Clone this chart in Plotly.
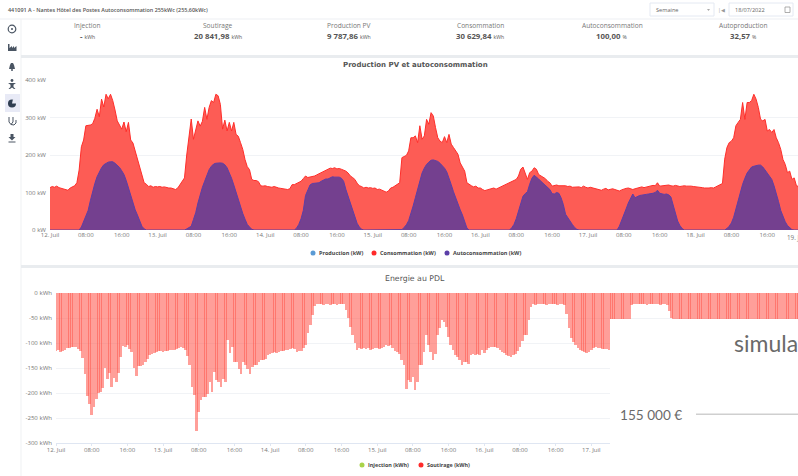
import pandas as pd
import plotly.graph_objects as go

W, H = 798, 476

# ---------- data (half-hourly) ----------
conso_12 = [113,116,114,117,113,111,110,108,106,112,116,118,126,160,222,240,278,278,280,283,298,322,302,349,328,362,350,362,345,320,291,280,269,288,262,287,240,232,211,190,166,146,126,122,116,118,114,116]
conso_13 = [115,116,114,115,113,112,112,110,108,112,121,128,139,200,246,296,242,268,291,277,290,327,295,327,345,340,362,358,335,269,293,264,287,264,287,255,250,233,215,188,169,161,135,132,132,129,118,117]
conso_14 = [118,116,115,114,116,113,112,111,110,110,108,110,121,121,124,126,130,137,144,140,141,143,144,147,150,154,157,160,162,165,164,166,163,164,162,160,157,152,144,140,135,125,118,116,112,114,112,113]
conso_15 = [111,112,108,109,106,104,101,104,112,114,118,120,126,193,197,199,211,246,246,251,233,278,242,251,295,282,313,304,273,246,237,233,249,233,255,229,220,211,202,179,166,157,126,121,118,115,117,112]
conso_16 = [112,108,105,107,108,110,112,109,112,115,118,120,124,126,128,131,135,144,162,168,148,135,153,157,166,162,148,144,139,137,130,126,117,119,120,118,118,120,118,116,117,114,115,116,115,113,117,114]
conso_17 = [112,114,112,110,110,108,106,109,111,107,108,110,108,106,104,107,110,111,112,109,108,110,112,114,115,113,115,116,117,119,118,126,117,118,117,120,120,118,117,119,117,116,117,118,117,118,117,116]
conso_18 = [115,114,112,113,112,111,112,113,112,115,118,120,124,189,220,233,237,246,278,287,295,340,295,340,340,345,362,349,327,295,291,295,264,268,260,268,246,233,215,188,175,153,157,135,139,118,115,114]

night = [0] * 13
auto_12 = night + [0,8,24,36,52,78,104,124,142,155,166,174,178,181,182,182,178,173,167,158,148,132,112,94,72,54,40,25,10,3,0,0,0,0,0]
auto_13 = night + [3,6,10,28,46,72,95,114,130,146,161,170,176,178,179,179,178,174,166,153,138,120,100,80,60,44,29,15,8,2,0,0,0,0,0]
auto_14 = night + [0,5,15,30,52,92,108,120,124,125,127,126,130,133,136,136,140,142,141,142,141,138,130,108,90,68,50,32,18,8,2,0,0,0,0]
auto_15 = night + [1,7,14,25,42,64,86,108,132,152,165,175,181,186,187,186,183,178,172,165,155,140,121,102,84,72,54,40,20,5,0,0,0,0,0]
auto_16 = night + [0,6,15,30,52,72,90,97,102,122,138,146,142,136,130,124,120,114,108,97,96,100,98,86,68,42,32,24,15,7,2,0,0,0,0]
auto_17 = night + [0,10,24,40,56,72,84,96,86,90,92,93,95,95,96,96,98,100,106,98,96,95,96,94,88,64,42,24,12,4,0,0,0,0,0]
auto_18 = night + [0,4,10,19,34,56,80,104,122,138,152,160,168,170,172,173,173,168,160,152,144,135,118,99,76,52,36,22,12,5,1,0,0,0,0]

sout_12 = [116,113,118,115,113,110,110,108,107,108,112,116,130,162,205,222,243,228,212,200,198,190,150,172,160,188,170,178,160,128,105,108,104,112,118,150,166,146,145,144,138,132,124,122,120,118,116,115]
sout_13 = [117,116,115,114,114,113,112,110,107,110,114,125,144,187,204,275,238,214,208,208,201,178,198,157,174,178,188,171,178,94,120,107,137,137,151,161,137,144,151,161,147,144,144,137,133,134,131,124]
sout_14 = [121,120,118,119,117,116,115,114,113,112,110,112,117,116,115,110,104,80,64,44,25,22,22,21,23,22,22,23,22,21,23,22,22,22,33,50,67,84,100,114,110,111,110,112,110,114,112,109]
sout_15 = [109,112,110,108,104,105,104,110,116,118,121,134,144,192,174,178,167,194,178,144,144,117,84,104,117,134,121,84,70,54,57,67,87,104,114,124,127,134,144,137,137,141,124,121,124,121,123,114]
sout_16 = [119,114,110,108,107,108,110,113,117,120,124,125,127,124,121,115,107,96,84,84,54,27,22,23,22,21,22,22,23,22,21,22,22,23,22,21,23,42,70,90,98,104,110,113,116,118,119,117]
sout_17 = [114,110,107,109,110,111,112,112,113,112,110,112,111,112,110,108,104,55,24,22,22,22,21,22,22,23,22,22,21,22,22,23,22,22,24,36,50,70,88,100,104,106,110,113,116,115,117,116]
sout_18 = [115,113,112,114,112,110,112,113,112,114,118,120,124,189,216,223,218,212,222,207,191,218,157,188,180,177,192,177,154,122,123,135,112,124,125,150,147,157,163,152,153,141,152,134,139,118,115,114]

consommation = conso_12 + conso_13 + conso_14 + conso_15 + conso_16 + conso_17 + conso_18
autoconsommation = auto_12 + auto_13 + auto_14 + auto_15 + auto_16 + auto_17 + auto_18
production = list(autoconsommation)   # 100 % autoconsommation: both curves coincide
soutirage = sout_12 + sout_13 + sout_14 + sout_15 + sout_16 + sout_17 + sout_18
assert len(consommation) == len(autoconsommation) == len(soutirage) == 336
times = pd.date_range("2022-07-12", periods=336, freq="30min")

tick_dates = ["2022-07-12 00:00","2022-07-12 08:00","2022-07-12 16:00","2022-07-13 00:00","2022-07-13 08:00","2022-07-13 16:00",
              "2022-07-14 00:00","2022-07-14 08:00","2022-07-14 16:00","2022-07-15 00:00","2022-07-15 08:00","2022-07-15 16:00",
              "2022-07-16 00:00","2022-07-16 08:00","2022-07-16 16:00","2022-07-17 00:00","2022-07-17 08:00","2022-07-17 16:00",
              "2022-07-18 00:00","2022-07-18 08:00","2022-07-18 16:00"]
tick_text = ["12. Juil","08:00","16:00","13. Juil","08:00","16:00","14. Juil","08:00","16:00","15. Juil","08:00","16:00",
             "16. Juil","08:00","16:00","17. Juil","08:00","16:00","18. Juil","08:00","16:00"]
kw_vals = [0,100,200,300,400]
kw_text = ["0 kW","100 kW","200 kW","300 kW","400 kW"]
kwh_vals = [0,-50,-100,-150,-200,-250,-300]
kwh_text = ["0 kWh","-50 kWh","-100 kWh","-150 kWh","-200 kWh","-250 kWh","-300 kWh"]
kpi_names = ["Injection","Soutirage","Production PV","Consommation","Autoconsommation","Autoproduction"]
kpi_values = ["-","20 841,98","9 787,86","30 629,84","100,00","32,57"]
kpi_units = ["kWh","kWh","kWh","kWh","%","%"]
kpi_x = [87,218,349,480,612,743]

# ---------- helpers (page pixels -> paper) ----------
fx = lambda x: x / W
fy = lambda y: 1 - y / H
FONT = "Open Sans"
shapes, ann = [], []

def text(x, y, s, size=8, color="#666", anchor="center", family=FONT, weight=None):
    f = dict(size=size, color=color, family=family)
    if weight:
        f["weight"] = weight
    ann.append(dict(xref="paper", yref="paper", x=fx(x), y=fy(y), text=s, showarrow=False, xanchor=anchor,
                    yanchor="middle", font=f, borderpad=0, borderwidth=0))

def rect(x0, y0, x1, y1, fill=None, line=None, lw=1, layer="above"):
    shapes.append(dict(type="rect", xref="paper", yref="paper", x0=fx(x0), x1=fx(x1), y0=fy(y1), y1=fy(y0),
                       fillcolor=fill or "rgba(0,0,0,0)", line=dict(color=line or "rgba(0,0,0,0)", width=lw if line else 0), layer=layer))

def circle(cx, cy, r, fill=None, line=None, lw=1):
    shapes.append(dict(type="circle", xref="paper", yref="paper", x0=fx(cx-r), x1=fx(cx+r), y0=fy(cy+r), y1=fy(cy-r),
                       fillcolor=fill or "rgba(0,0,0,0)", line=dict(color=line or "rgba(0,0,0,0)", width=lw if line else 0), layer="above"))

def poly(pts, fill=None, line=None, lw=1, close=True):
    d = "M" + " L".join(f"{fx(x):.5f},{fy(y):.5f}" for x, y in pts) + (" Z" if close else "")
    shapes.append(dict(type="path", xref="paper", yref="paper", path=d, fillcolor=fill or "rgba(0,0,0,0)",
                       line=dict(color=line or "rgba(0,0,0,0)", width=lw if line else 0), layer="above"))

# ---------- page chrome ----------
rect(0, 18.5, W, 19.5, fill="#eef0f3")
rect(20.5, 19, 21.5, 476, fill="#f0f1f4")
rect(21, 55, W, 58, fill="#e9ecef")
rect(21, 265, W, 268, fill="#e9ecef")
text(8, 10, "441091 A - Nantes Hôtel des Postes Autoconsommation 255kWc (255,60kWc)", size=5.45, color="#555", anchor="left", weight=600)

rect(650, 3, 714, 16, fill="#fff", line="#e4e9f2")
text(656, 10, "Semaine", size=5.6, color="#666", anchor="left")
poly([(707, 9), (710, 9), (708.5, 11)], fill="#aaa")
text(721, 10, "|◀", size=5, color="#999")
rect(729, 3, 793, 16, fill="#fff", line="#e4e9f2")
text(735, 10, "18/07/2022", size=5.6, color="#666", anchor="left")
rect(785, 7, 790, 12.5, line="#999", lw=0.8)

for name, val, unit, x in zip(kpi_names, kpi_values, kpi_units, kpi_x):
    text(x, 25, name, size=6.6, color="#777")
    text(x, 36.5, f"<b>{val}</b> <span style='font-size:5.2px'>{unit}</span>", size=7.8, color="#555")

# sidebar icons
ic = "#4a5563"
rect(5, 94, 20, 112, fill="#e8eaf6")
circle(12, 29, 3.8, line=ic, lw=1.2)
circle(12, 29, 1, fill=ic)
poly([(8, 51), (8, 44), (9.5, 44), (9.5, 48), (12, 46), (12, 48), (14, 46), (14, 48), (16.5, 46), (16.5, 51)], fill=ic)
poly([(9, 69), (10, 65), (11, 63), (13, 63), (14, 65), (15, 69)], fill=ic)
circle(12, 70, 1, fill=ic)
circle(12, 80.5, 1.4, fill=ic)
poly([(8, 83), (16, 83), (13.5, 84.8), (13.5, 87), (15.5, 89), (14, 89), (12, 87.5), (10, 89), (8.5, 89), (10.5, 87), (10.5, 84.8)], fill=ic)
circle(12, 103.5, 4, fill="#2f3e51")
poly([(12, 103.5), (16.5, 103.5), (16.5, 100), (13, 99)], fill="#e8eaf6")
poly([(9, 117), (9, 122), (11, 124.5), (13, 122), (13, 117)], line=ic, lw=1, close=False)
poly([(11, 124.5), (14, 125), (16, 123), (16, 120)], line=ic, lw=1, close=False)
poly([(10.5, 134), (13.5, 134), (13.5, 137), (15.5, 137), (12, 140.5), (8.5, 137), (10.5, 137)], fill=ic)
rect(8.5, 141.5, 15.5, 142.5, fill=ic)

# section titles
text(415, 65, "<b>Production PV et autoconsommation</b>", size=7, color="#555", family="DejaVu Sans")
text(415, 278, "Energie au PDL", size=7.8, color="#555", family="DejaVu Sans")

# hand-placed legends, spaced as in the picture
for cx, name, col in [(313, "Production (kW)", "#5b9bd5"), (374, "Consommation (kW)", "#ff2a2a"), (447, "Autoconsommation (kW)", "#5b3fa8")]:
    circle(cx, 253, 2.5, fill=col)
    text(cx + 6, 253, f"<b>{name}</b>", size=5.5, color="#444", anchor="left")
for cx, name, col in [(362, "Injection (kWh)", "#a9d34a"), (421, "Soutirage (kWh)", "#ff2a2a")]:
    circle(cx, 465, 2.5, fill=col)
    text(cx + 6, 465, f"<b>{name}</b>", size=5.4, color="#444", anchor="left")

text(787, 237, "19. Juil", size=6.3, color="#777", anchor="left")

# overlapping white panel, cropped text as in the picture
rect(610, 319, W + 2, H + 2, fill="#ffffff")
text(734, 343, "simulation", size=23, color="#6a6a6a", anchor="left", family="Lato")
text(620, 414.5, "155 000 €", size=13.6, color="#6a6a6a", anchor="left", family="Lato")
rect(696, 413.5, W + 2, 415, fill="#cfcfcf")

# ---------- figure ----------
fig = go.Figure()
fig.add_trace(go.Scatter(x=times, y=production, name="Production (kW)", mode="lines", line=dict(color="#5b9bd5", width=1), xaxis="x", yaxis="y", showlegend=False))
fig.add_trace(go.Scatter(x=times, y=consommation, name="Consommation (kW)", mode="lines", fill="tozeroy", fillcolor="#fd5c55", line=dict(color="#ff2e2a", width=1), xaxis="x", yaxis="y", showlegend=False))
fig.add_trace(go.Scatter(x=times, y=autoconsommation, name="Autoconsommation (kW)", mode="lines", fill="tozeroy", fillcolor="#74408f", line=dict(color="#5d3fa6", width=1), xaxis="x", yaxis="y", showlegend=False))
fig.add_trace(go.Bar(x=times, y=[-v for v in soutirage], name="Soutirage (kWh)", marker=dict(color="rgba(255,90,80,0.58)", line=dict(width=0)), width=1.8e6 * 1.22, xaxis="x2", yaxis="y2", showlegend=False))

tickfont = dict(size=6.1, color="#777", family=FONT)
common_x = dict(type="date", tickmode="array", tickvals=tick_dates, ticktext=tick_text, tickfont=tickfont, showgrid=False, zeroline=False)
common_y = dict(tickmode="array", tickfont=tickfont, showgrid=True, gridcolor="#f1f3f6", gridwidth=1, zeroline=False, showline=False, ticks="", automargin=False, ticklabelstandoff=3)

fig.update_layout(
    width=W, height=H, margin=dict(l=0, r=0, t=0, b=0, autoexpand=False), paper_bgcolor="#fff", plot_bgcolor="#fff",
    showlegend=False, bargap=0, barmode="overlay", shapes=shapes, annotations=ann,
    xaxis=dict(common_x, domain=[fx(50), 1], range=["2022-07-12 00:00", "2022-07-18 22:51"], anchor="y", showline=False, ticks="", ticklen=0),
    yaxis=dict(common_y, domain=[fy(230), fy(80)], range=[0, 400], tickvals=kw_vals, ticktext=kw_text, anchor="x"),
    xaxis2=dict(common_x, domain=[fx(56), 1], range=["2022-07-12 00:00", "2022-07-18 22:20"], anchor="y2", showline=True, linecolor="#dfe6f2", linewidth=1, ticks="outside", ticklen=2, tickcolor="#dfe6f2", ticklabelstandoff=-1),
    yaxis2=dict(common_y, domain=[fy(443), fy(293)], range=[-300, 0], tickvals=kwh_vals, ticktext=kwh_text, anchor="x2"),
)
fig.write_html("out.html", config=dict(staticPlot=True),
               post_script="document.body.style.margin='0';document.body.style.overflow='hidden';")
